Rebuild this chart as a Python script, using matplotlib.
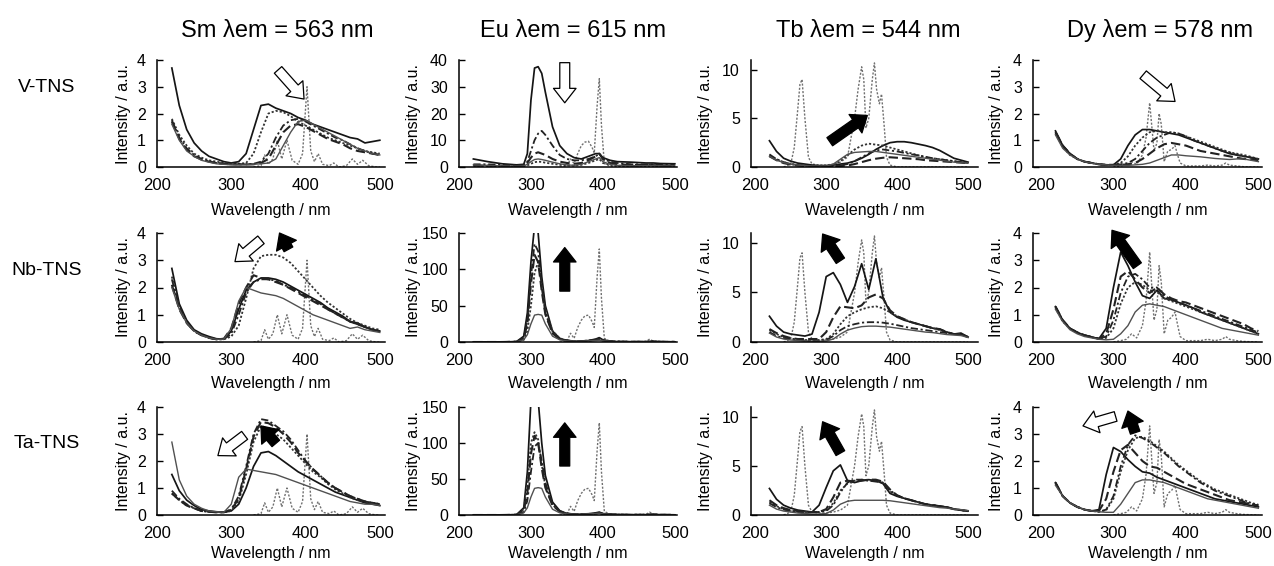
import matplotlib
matplotlib.use('Agg')
import matplotlib.pyplot as plt

plt.rcParams['font.family'] = ['Liberation Sans', 'DejaVu Sans']

# ---------------- data ----------------
COLUMN_TITLES = ['Sm \u03bbem = 563 nm', 'Eu \u03bbem = 615 nm', 'Tb \u03bbem = 544 nm', 'Dy \u03bbem = 578 nm']
ROW_LABELS = ['V-TNS', 'Nb-TNS', 'Ta-TNS']
X_LABEL = 'Wavelength / nm'
Y_LABEL = 'Intensity / a.u.'
X_TICKS = [200, 300, 400, 500]

WL = [220, 230, 240, 250, 260, 270, 280, 290, 300, 310, 320, 330, 340, 350, 360,
      370, 380, 390, 400, 410, 420, 430, 440, 450, 460, 470, 480, 490, 500]
EU_WL = [220, 240, 260, 280, 290, 295, 300, 305, 310, 315, 320, 330, 340, 350, 360,
         370, 380, 390, 395, 400, 410, 420, 440, 460, 470, 480, 500]

# reference (direct excitation) spectra, gray dotted
SM_REF_X = [330, 340, 345, 350, 356, 362, 368, 375, 382, 390, 396, 402, 407, 412, 417, 423, 432,
            438, 445, 455, 463, 470, 477, 485, 495, 500]
SM_REF_Y = [0.0, 0.05, 0.45, 0.1, 0.3, 1.0, 0.3, 1.0, 0.25, 0.1, 0.5, 3.0, 0.6, 0.2, 0.5, 0.1, 0.05,
            0.15, 0.0, 0.05, 0.3, 0.1, 0.25, 0.05, 0.0, 0.0]
EU_REF_X = [340, 350, 355, 360, 365, 370, 375, 380, 385, 388, 392, 395, 398, 402, 410, 420, 440,
            460, 465, 470, 500]
EU_REF_Y = [0, 1, 12, 5, 20, 30, 36, 37, 28, 20, 90, 128, 60, 5, 1, 0.5, 0.5, 1, 4, 1, 0]
EU_REF_Y_V = [0, 0.3, 3, 1.3, 5, 8, 9.3, 9.6, 7.3, 5.2, 23, 33, 15.6, 1.3, 0.3, 0.1, 0.1, 0.3, 1, 0.3, 0]
TB_REF_X = [240, 250, 255, 260, 263, 266, 270, 275, 280, 290, 300, 310, 320, 330, 335, 340, 345,
            350, 353, 356, 360, 365, 368, 371, 375, 378, 382, 385, 390, 400, 500]
TB_REF_Y = [0, 0.3, 2, 6, 8.5, 9, 5, 1, 0.3, 0.2, 0.2, 0.3, 0.5, 1, 3, 5, 8, 10.3, 9, 4, 5, 9,
            10.7, 8, 6.5, 7.5, 4, 1, 0.2, 0, 0]
DY_REF_X = [300, 310, 318, 325, 332, 340, 345, 350, 353, 356, 360, 363, 366, 370, 375, 380, 385,
            388, 392, 400, 420, 430, 440, 450, 455, 460, 470, 480, 500]
DY_REF_Y = [0, 0.05, 0.1, 0.3, 0.15, 0.6, 1.5, 3.3, 2.0, 0.8, 1.2, 2.8, 2.2, 0.3, 0.8, 0.9, 1.1,
            0.7, 0.2, 0.05, 0.05, 0.1, 0.05, 0.1, 0.2, 0.1, 0.05, 0.02, 0]
DY_REF_Y_V = [0, 0.04, 0.07, 0.2, 0.1, 0.45, 1.1, 2.4, 1.5, 0.6, 0.9, 2.0, 1.6, 0.2, 0.6, 0.65, 0.8,
              0.5, 0.15, 0.04, 0.04, 0.07, 0.04, 0.07, 0.15, 0.07, 0.04, 0.01, 0]

# V-TNS
V_SM_1 = [3.7, 2.3, 1.4, 0.9, 0.6, 0.4, 0.3, 0.2, 0.15, 0.2, 0.5, 1.4, 2.3, 2.35, 2.2,
          2.1, 2.0, 1.85, 1.75, 1.6, 1.5, 1.4, 1.3, 1.2, 1.1, 1.05, 0.9, 0.95, 1.0]
V_SM_2 = [1.8, 1.2, 0.8, 0.5, 0.35, 0.25, 0.2, 0.15, 0.12, 0.12, 0.15, 0.5, 1.3, 2.0, 2.1,
          2.05, 1.9, 1.7, 1.55, 1.4, 1.25, 1.1, 1.0, 0.9, 0.8, 0.7, 0.6, 0.55, 0.5]
V_SM_3 = [1.75, 1.1, 0.7, 0.45, 0.3, 0.2, 0.15, 0.12, 0.1, 0.1, 0.1, 0.12, 0.2, 0.5, 1.1,
          1.55, 1.75, 1.8, 1.7, 1.55, 1.4, 1.25, 1.1, 1.0, 0.85, 0.7, 0.6, 0.5, 0.45]
V_SM_4 = [1.7, 1.05, 0.65, 0.4, 0.28, 0.2, 0.15, 0.12, 0.1, 0.1, 0.1, 0.1, 0.15, 0.3, 0.8,
          1.3, 1.55, 1.6, 1.5, 1.35, 1.2, 1.05, 0.95, 0.85, 0.7, 0.6, 0.55, 0.5, 0.45]
V_SM_5 = [1.6, 1.0, 0.6, 0.4, 0.25, 0.18, 0.12, 0.1, 0.08, 0.08, 0.08, 0.1, 0.12, 0.15, 0.3,
          0.8, 1.3, 1.7, 1.75, 1.6, 1.45, 1.3, 1.15, 1.0, 0.85, 0.7, 0.6, 0.5, 0.45]

V_EU_1 = [3, 2, 1.2, 0.8, 1, 5, 25, 37, 37.5, 35, 28, 15, 8, 5, 3.5, 3, 4, 5, 5, 3.5, 2.5, 2, 1.8, 1.5, 1.5, 1.3, 1.2]
V_EU_2 = [1, 1, 0.8, 0.6, 0.8, 2, 6, 10, 12.5, 13.5, 12, 8, 4.5, 3, 2.5, 2.5, 3, 4, 5, 3, 2, 1.5, 1, 1, 1, 0.8, 0.8]
V_EU_3 = [0.5, 0.5, 0.4, 0.3, 0.5, 1.5, 3.5, 5, 5.5, 5, 4.5, 3, 2, 1.5, 1.2, 1.5, 2.5, 4, 5, 3, 1.5, 1, 0.8, 0.7, 0.7, 0.6, 0.5]
V_EU_4 = [0.8, 0.6, 0.4, 0.3, 0.4, 1, 2, 2.8, 3, 2.8, 2.5, 1.8, 1.2, 0.8, 0.6, 1, 2, 3, 3.5, 2, 1, 0.6, 0.5, 0.5, 0.5, 0.4, 0.4]
V_EU_5 = [0.5, 0.4, 0.3, 0.2, 0.3, 0.6, 1.2, 1.8, 2, 1.9, 1.6, 1.2, 0.8, 0.6, 0.5, 0.8, 1.5, 2.5, 3, 1.5, 0.8, 0.5, 0.4, 0.4, 0.4, 0.3, 0.3]

V_TB_1 = [2.7, 1.6, 0.9, 0.6, 0.4, 0.3, 0.2, 0.15, 0.15, 0.2, 0.3, 0.4, 0.6, 0.9, 1.3,
          1.8, 2.2, 2.5, 2.6, 2.6, 2.5, 2.35, 2.2, 2.0, 1.7, 1.3, 0.9, 0.7, 0.5]
V_TB_2 = [1.2, 0.8, 0.5, 0.3, 0.2, 0.15, 0.1, 0.1, 0.1, 0.2, 0.6, 1.2, 1.8, 2.2, 2.4,
          2.3, 2.2, 2.0, 1.8, 1.6, 1.4, 1.2, 1.0, 0.9, 0.8, 0.7, 0.6, 0.5, 0.4]
V_TB_3 = [1.3, 0.8, 0.5, 0.3, 0.2, 0.15, 0.1, 0.1, 0.1, 0.1, 0.15, 0.3, 0.6, 1.0, 1.4,
          1.7, 1.8, 1.7, 1.6, 1.45, 1.3, 1.2, 1.05, 0.9, 0.8, 0.7, 0.6, 0.5, 0.45]
V_TB_4 = [1.1, 0.7, 0.4, 0.25, 0.15, 0.1, 0.08, 0.08, 0.08, 0.08, 0.1, 0.15, 0.3, 0.5, 0.7,
          0.85, 0.95, 1.0, 0.95, 0.9, 0.85, 0.8, 0.7, 0.65, 0.6, 0.55, 0.5, 0.45, 0.4]
V_TB_5 = [1.1, 0.7, 0.45, 0.3, 0.2, 0.15, 0.1, 0.1, 0.1, 0.3, 0.8, 1.3, 1.5, 1.55, 1.6,
          1.6, 1.5, 1.4, 1.3, 1.2, 1.1, 1.0, 0.9, 0.8, 0.7, 0.6, 0.5, 0.45, 0.4]

V_DY_1 = [1.35, 0.8, 0.5, 0.3, 0.2, 0.15, 0.1, 0.08, 0.08, 0.3, 0.8, 1.2, 1.4, 1.4, 1.35,
          1.3, 1.25, 1.2, 1.1, 1.0, 0.9, 0.8, 0.7, 0.6, 0.5, 0.45, 0.4, 0.35, 0.3]
V_DY_2 = [1.3, 0.8, 0.5, 0.3, 0.2, 0.15, 0.1, 0.08, 0.08, 0.1, 0.15, 0.3, 0.6, 0.9, 1.1,
          1.2, 1.3, 1.25, 1.15, 1.0, 0.9, 0.8, 0.7, 0.6, 0.55, 0.45, 0.4, 0.35, 0.3]
V_DY_3 = [1.3, 0.8, 0.5, 0.3, 0.2, 0.15, 0.1, 0.08, 0.08, 0.08, 0.1, 0.15, 0.3, 0.5, 0.7,
          0.85, 0.9, 0.85, 0.8, 0.7, 0.6, 0.55, 0.5, 0.45, 0.4, 0.35, 0.3, 0.28, 0.25]
V_DY_4 = [1.2, 0.7, 0.45, 0.3, 0.2, 0.14, 0.1, 0.08, 0.06, 0.06, 0.06, 0.08, 0.1, 0.15, 0.25,
          0.35, 0.45, 0.45, 0.42, 0.4, 0.38, 0.35, 0.32, 0.3, 0.28, 0.3, 0.3, 0.25, 0.2]
V_DY_5 = [1.25, 0.75, 0.45, 0.3, 0.2, 0.15, 0.1, 0.08, 0.08, 0.15, 0.4, 0.8, 1.1, 1.3, 1.35,
          1.3, 1.3, 1.25, 1.15, 1.05, 0.95, 0.85, 0.75, 0.65, 0.55, 0.5, 0.45, 0.38, 0.3]

# Nb-TNS
NB_SM_1 = [2.4, 1.3, 0.7, 0.4, 0.25, 0.15, 0.1, 0.1, 0.2, 0.6, 1.6, 2.7, 3.15, 3.2, 3.2,
           3.1, 2.9, 2.6, 2.3, 2.0, 1.7, 1.45, 1.25, 1.05, 0.85, 0.7, 0.6, 0.5, 0.45]
NB_SM_2 = [2.7, 1.4, 0.8, 0.45, 0.3, 0.2, 0.12, 0.1, 0.4, 1.2, 1.9, 2.2, 2.35, 2.35, 2.3,
           2.2, 2.05, 1.9, 1.75, 1.6, 1.45, 1.25, 1.1, 0.95, 0.75, 0.7, 0.55, 0.45, 0.4]
NB_SM_3 = [2.3, 1.3, 0.7, 0.4, 0.25, 0.15, 0.1, 0.1, 0.3, 1.0, 1.8, 2.2, 2.3, 2.3, 2.25,
           2.1, 2.0, 1.85, 1.7, 1.55, 1.4, 1.2, 1.05, 0.9, 0.75, 0.65, 0.55, 0.45, 0.4]
NB_SM_4 = [2.1, 1.2, 0.7, 0.4, 0.25, 0.15, 0.1, 0.12, 0.5, 1.4, 2.0, 2.45, 2.35, 2.3, 2.2,
           2.1, 1.95, 1.8, 1.65, 1.5, 1.35, 1.2, 1.05, 0.9, 0.75, 0.65, 0.55, 0.45, 0.4]
NB_SM_5 = [2.0, 1.2, 0.7, 0.4, 0.25, 0.15, 0.1, 0.1, 0.5, 1.5, 2.0, 1.9, 1.8, 1.75, 1.7,
           1.6, 1.45, 1.3, 1.15, 1.0, 0.9, 0.8, 0.7, 0.6, 0.5, 0.55, 0.45, 0.4, 0.35]

NB_EU_1 = [0, 0, 0, 0.5, 8, 40, 110, 160, 150, 90, 50, 15, 5, 2, 1, 1, 2, 4, 6, 3, 1, 0.5, 0.3, 0.3, 1, 0.3, 0.2]
NB_EU_2 = [0, 0, 0, 0.5, 6, 30, 90, 135, 125, 75, 40, 12, 4, 2, 1, 1, 2, 3, 5, 2, 1, 0.5, 0.3, 0.3, 0.5, 0.3, 0.2]
NB_EU_3 = [0, 0, 0, 0.4, 5, 25, 80, 120, 110, 70, 38, 12, 4, 2, 1, 1, 2, 3, 4, 2, 1, 0.5, 0.3, 0.3, 0.5, 0.3, 0.2]
NB_EU_4 = [0, 0, 0, 0.3, 3, 15, 50, 95, 110, 80, 45, 15, 5, 2, 1, 1, 1.5, 3, 4, 2, 1, 0.5, 0.3, 0.3, 0.5, 0.3, 0.2]
NB_EU_5 = [0, 0, 0, 0.3, 3, 10, 25, 37, 38, 37, 25, 8, 3, 1.5, 1, 1, 1.5, 2, 2.5, 1.5, 0.8, 0.4, 0.3, 0.3, 0.3, 0.2, 0.2]

NB_TB_1 = [2.6, 1.6, 1.0, 0.8, 0.7, 0.6, 0.8, 3.0, 6.6, 7.0, 5.8, 4.0, 5.6, 7.9, 5.3,
           8.4, 4.5, 3.0, 2.5, 2.2, 2.0, 1.8, 1.6, 1.4, 1.3, 1.0, 0.8, 0.9, 0.5]
NB_TB_2 = [1.3, 0.9, 0.6, 0.4, 0.3, 0.3, 0.3, 0.3, 1.0, 2.5, 3.6, 3.5, 3.4, 3.7, 4.5,
           4.8, 4.4, 3.2, 2.6, 2.3, 2.0, 1.8, 1.6, 1.4, 1.3, 1.0, 0.8, 0.8, 0.5]
NB_TB_3 = [1.2, 0.8, 0.5, 0.35, 0.25, 0.2, 0.2, 0.2, 0.3, 0.8, 1.8, 2.6, 3.0, 3.3, 3.5,
           3.6, 3.4, 3.0, 2.6, 2.3, 2.0, 1.8, 1.6, 1.4, 1.2, 1.0, 0.8, 0.8, 0.5]
NB_TB_4 = [1.0, 0.6, 0.4, 0.3, 0.2, 0.15, 0.1, 0.1, 0.2, 0.6, 1.2, 1.6, 1.8, 1.95, 2.0,
           2.0, 1.95, 1.85, 1.7, 1.55, 1.4, 1.3, 1.2, 1.1, 1.0, 0.9, 0.8, 0.75, 0.5]
NB_TB_5 = [0.9, 0.5, 0.3, 0.2, 0.15, 0.1, 0.08, 0.08, 0.1, 0.3, 0.8, 1.2, 1.4, 1.55, 1.6,
           1.6, 1.55, 1.5, 1.4, 1.3, 1.2, 1.1, 1.0, 0.95, 0.85, 0.75, 0.7, 0.65, 0.45]

NB_DY_1 = [1.3, 0.8, 0.5, 0.35, 0.25, 0.18, 0.12, 0.5, 2.0, 3.3, 2.8, 2.2, 1.7, 1.6, 1.9,
           1.6, 1.55, 1.45, 1.35, 1.25, 1.1, 1.0, 0.9, 0.8, 0.7, 0.6, 0.5, 0.4, 0.3]
NB_DY_2 = [1.3, 0.8, 0.5, 0.35, 0.25, 0.18, 0.12, 0.3, 1.2, 2.4, 2.6, 2.3, 2.0, 1.8, 2.0,
           1.75, 1.6, 1.5, 1.45, 1.35, 1.25, 1.15, 1.05, 0.95, 0.85, 0.75, 0.65, 0.5, 0.4]
NB_DY_3 = [1.3, 0.8, 0.5, 0.35, 0.25, 0.18, 0.12, 0.2, 0.8, 1.8, 2.4, 2.5, 2.3, 2.0, 2.0,
           1.7, 1.55, 1.45, 1.35, 1.25, 1.15, 1.05, 0.95, 0.85, 0.75, 0.65, 0.55, 0.45, 0.35]
NB_DY_4 = [1.25, 0.75, 0.5, 0.35, 0.25, 0.18, 0.12, 0.15, 0.5, 1.4, 2.0, 2.2, 2.1, 1.9, 1.85,
           1.6, 1.5, 1.4, 1.3, 1.2, 1.1, 1.0, 0.9, 0.8, 0.7, 0.6, 0.5, 0.4, 0.3]
NB_DY_5 = [1.2, 0.75, 0.45, 0.3, 0.2, 0.15, 0.1, 0.08, 0.1, 0.3, 0.6, 1.1, 1.35, 1.4, 1.35,
           1.3, 1.2, 1.1, 1.0, 0.9, 0.8, 0.7, 0.6, 0.5, 0.45, 0.4, 0.35, 0.3, 0.25]

# Ta-TNS
TA_SM_1 = [0.9, 0.6, 0.4, 0.25, 0.15, 0.12, 0.1, 0.1, 0.2, 0.7, 1.8, 3.0, 3.55, 3.5, 3.3,
           3.1, 2.8, 2.4, 2.0, 1.7, 1.45, 1.2, 1.0, 0.85, 0.7, 0.6, 0.5, 0.45, 0.4]
TA_SM_2 = [0.8, 0.55, 0.35, 0.25, 0.15, 0.12, 0.1, 0.1, 0.2, 0.6, 1.7, 2.9, 3.45, 3.4, 3.25,
           3.0, 2.7, 2.3, 2.0, 1.7, 1.45, 1.2, 1.0, 0.85, 0.7, 0.6, 0.5, 0.45, 0.4]
TA_SM_3 = [0.8, 0.55, 0.35, 0.25, 0.15, 0.12, 0.1, 0.1, 0.15, 0.5, 1.5, 2.7, 3.3, 3.2, 3.0,
           2.8, 2.5, 2.2, 1.9, 1.6, 1.4, 1.15, 0.95, 0.8, 0.65, 0.55, 0.5, 0.45, 0.4]
TA_SM_4 = [1.5, 0.9, 0.55, 0.35, 0.2, 0.15, 0.12, 0.1, 0.15, 0.4, 1.0, 1.8, 2.3, 2.35, 2.2,
           2.0, 1.8, 1.6, 1.45, 1.3, 1.15, 1.0, 0.85, 0.75, 0.65, 0.55, 0.45, 0.4, 0.35]
TA_SM_5 = [2.7, 1.3, 0.7, 0.4, 0.25, 0.15, 0.12, 0.1, 0.4, 1.4, 1.7, 1.65, 1.6, 1.55, 1.5,
           1.4, 1.3, 1.2, 1.1, 1.0, 0.9, 0.8, 0.7, 0.6, 0.5, 0.45, 0.4, 0.4, 0.35]

TA_EU_1 = [0, 0, 0, 0.5, 10, 60, 160, 170, 160, 100, 55, 18, 6, 2, 1, 1, 1.5, 3, 4, 2, 1, 0.5, 0.3, 0.3, 1, 0.3, 0.2]
TA_EU_2 = [0, 0, 0, 0.4, 8, 40, 100, 115, 105, 70, 40, 14, 5, 2, 1, 1, 1.5, 2, 3, 1.5, 0.8, 0.5, 0.3, 0.3, 0.5, 0.3, 0.2]
TA_EU_3 = [0, 0, 0, 0.4, 6, 30, 85, 110, 100, 65, 38, 13, 5, 2, 1, 1, 1.5, 2, 3, 1.5, 0.8, 0.5, 0.3, 0.3, 0.5, 0.3, 0.2]
TA_EU_4 = [0, 0, 0, 0.3, 4, 20, 60, 95, 100, 75, 45, 15, 5, 2, 1, 1, 1.5, 2, 3, 1.5, 0.8, 0.5, 0.3, 0.3, 0.5, 0.3, 0.2]
TA_EU_5 = [0, 0, 0, 0.3, 3, 10, 25, 37, 38, 37, 25, 8, 3, 1.5, 1, 1, 1.5, 2, 2.5, 1.5, 0.8, 0.4, 0.3, 0.3, 0.3, 0.2, 0.2]

TA_TB_1 = [2.7, 1.6, 1.0, 0.7, 0.5, 0.4, 0.3, 1.0, 2.8, 4.5, 5.1, 3.5, 3.3, 3.5, 3.6,
           3.5, 3.2, 2.2, 1.9, 1.7, 1.5, 1.3, 1.1, 1.0, 0.9, 0.8, 0.6, 0.5, 0.4]
TA_TB_2 = [1.5, 1.0, 0.7, 0.5, 0.4, 0.3, 0.3, 0.3, 0.6, 1.8, 3.3, 3.5, 3.4, 3.5, 3.6,
           3.6, 3.4, 2.6, 2.0, 1.7, 1.5, 1.3, 1.1, 1.0, 0.9, 0.8, 0.6, 0.5, 0.4]
TA_TB_3 = [1.3, 0.9, 0.6, 0.45, 0.35, 0.3, 0.3, 0.3, 0.5, 1.2, 2.5, 3.2, 3.5, 3.6, 3.5,
           3.5, 3.3, 2.4, 2.0, 1.7, 1.5, 1.3, 1.1, 1.0, 0.9, 0.8, 0.6, 0.5, 0.4]
TA_TB_4 = [1.2, 0.8, 0.55, 0.4, 0.3, 0.3, 0.3, 0.3, 0.4, 1.0, 2.3, 3.3, 3.6, 3.6, 3.5,
           3.4, 3.3, 2.5, 2.0, 1.7, 1.5, 1.3, 1.1, 1.0, 0.9, 0.8, 0.6, 0.5, 0.4]
TA_TB_5 = [1.0, 0.6, 0.4, 0.3, 0.2, 0.15, 0.1, 0.1, 0.15, 0.5, 1.1, 1.4, 1.5, 1.5, 1.5,
           1.5, 1.5, 1.45, 1.35, 1.25, 1.15, 1.05, 0.95, 0.85, 0.75, 0.7, 0.6, 0.55, 0.45]

TA_DY_1 = [1.2, 0.7, 0.45, 0.3, 0.2, 0.15, 0.2, 1.5, 2.5, 2.35, 2.05, 1.8, 1.6, 1.55, 1.4,
           1.3, 1.2, 1.1, 1.0, 0.9, 0.8, 0.7, 0.6, 0.55, 0.5, 0.45, 0.4, 0.35, 0.3]
TA_DY_2 = [1.2, 0.7, 0.45, 0.3, 0.2, 0.15, 0.15, 0.6, 1.6, 2.4, 2.6, 2.3, 2.0, 1.8, 1.75,
           1.6, 1.45, 1.3, 1.15, 1.05, 0.95, 0.85, 0.75, 0.65, 0.55, 0.5, 0.45, 0.4, 0.35]
TA_DY_3 = [1.2, 0.7, 0.45, 0.3, 0.2, 0.15, 0.12, 0.2, 0.7, 1.8, 2.6, 2.95, 2.85, 2.7, 2.5,
           2.3, 2.05, 1.8, 1.6, 1.4, 1.2, 1.05, 0.9, 0.8, 0.7, 0.6, 0.5, 0.4, 0.35]
TA_DY_4 = [1.15, 0.7, 0.45, 0.3, 0.2, 0.15, 0.12, 0.18, 0.6, 1.6, 2.4, 2.85, 2.9, 2.75, 2.55,
           2.35, 2.1, 1.85, 1.65, 1.45, 1.25, 1.1, 0.95, 0.85, 0.75, 0.65, 0.55, 0.45, 0.38]
TA_DY_5 = [1.1, 0.7, 0.45, 0.3, 0.2, 0.15, 0.12, 0.1, 0.1, 0.4, 0.8, 1.2, 1.3, 1.3, 1.25,
           1.2, 1.1, 1.0, 0.9, 0.8, 0.7, 0.6, 0.55, 0.5, 0.45, 0.4, 0.35, 0.3, 0.25]

# ---------------- styles & layout ----------------
STYLES = {
    'solid': dict(color='#151515', ls='-', lw=1.25),
    'dot': dict(color='#333333', ls=(0, (1.2, 1.1)), lw=1.3),
    'dashdot': dict(color='#222222', ls=(0, (4, 1.5, 1.2, 1.5)), lw=1.3),
    'dash': dict(color='#222222', ls=(0, (4.5, 2)), lw=1.5),
    'gray': dict(color='#505050', ls='-', lw=1.0),
    'ref': dict(color='#707070', ls=(0, (1.5, 1.2)), lw=1.0),
}
CURVE_STYLES = ['solid', 'dot', 'dashdot', 'dash', 'gray']

PANELS = [
    [(WL, [V_SM_1, V_SM_2, V_SM_3, V_SM_4, V_SM_5], SM_REF_X, SM_REF_Y),
     (EU_WL, [V_EU_1, V_EU_5, V_EU_2, V_EU_3, V_EU_4], EU_REF_X, EU_REF_Y_V),
     (WL, [V_TB_1, V_TB_2, V_TB_3, V_TB_4, V_TB_5], TB_REF_X, TB_REF_Y),
     (WL, [V_DY_1, V_DY_5, V_DY_2, V_DY_3, V_DY_4], DY_REF_X, DY_REF_Y_V)],
    [(WL, [NB_SM_2, NB_SM_1, NB_SM_3, NB_SM_4, NB_SM_5], SM_REF_X, SM_REF_Y),
     (EU_WL, [NB_EU_1, NB_EU_4, NB_EU_2, NB_EU_3, NB_EU_5], EU_REF_X, EU_REF_Y),
     (WL, [NB_TB_1, NB_TB_3, NB_TB_4, NB_TB_2, NB_TB_5], TB_REF_X, TB_REF_Y),
     (WL, [NB_DY_1, NB_DY_4, NB_DY_3, NB_DY_2, NB_DY_5], DY_REF_X, DY_REF_Y)],
    [(WL, [TA_SM_4, TA_SM_3, TA_SM_1, TA_SM_2, TA_SM_5], SM_REF_X, SM_REF_Y),
     (EU_WL, [TA_EU_1, TA_EU_2, TA_EU_4, TA_EU_3, TA_EU_5], EU_REF_X, EU_REF_Y),
     (WL, [TA_TB_1, TA_TB_3, TA_TB_4, TA_TB_2, TA_TB_5], TB_REF_X, TB_REF_Y),
     (WL, [TA_DY_1, TA_DY_4, TA_DY_3, TA_DY_2, TA_DY_5], DY_REF_X, DY_REF_Y)],
]

YLIMS = [[(0, 4), (0, 40), (0, 11), (0, 4)],
         [(0, 4), (0, 150), (0, 11), (0, 4)],
         [(0, 4), (0, 150), (0, 11), (0, 4)]]
YTICKS = [[[0, 1, 2, 3, 4], [0, 10, 20, 30, 40], [0, 5, 10], [0, 1, 2, 3, 4]],
          [[0, 1, 2, 3, 4], [0, 50, 100, 150], [0, 5, 10], [0, 1, 2, 3, 4]],
          [[0, 1, 2, 3, 4], [0, 50, 100, 150], [0, 5, 10], [0, 1, 2, 3, 4]]]

# block arrows: (tail, tip, fill)
ARROWS = [
    [[((363, 3.63), (398, 2.54), 'white')],
     [((347, 39), (347, 24), 'white')],
     [((305, 2.6), (358, 5.3), 'black')],
     [((341, 3.45), (385, 2.45), 'white')]],
    [[((340, 3.75), (305, 2.95), 'white'), ((377, 3.4), (365, 4.0), 'black')],
     [((347, 70), (347, 130), 'black')],
     [((320, 8.2), (295, 10.9), 'black')],
     [((333, 2.8), (298, 4.1), 'black')]],
    [[((318, 2.95), (282, 2.2), 'white'), ((360, 2.65), (340, 3.3), 'black')],
     [((347, 68), (347, 128), 'black')],
     [((320, 6.3), (295, 9.5), 'black')],
     [((303, 3.65), (258, 3.3), 'white'), ((330, 3.05), (320, 3.85), 'black')]],
]

W, H = 1274, 566
COL_LEFT = [157, 459, 751, 1033]
COL_W = [228, 218, 227, 229]
ROW_AXIS_Y = [167, 342, 515]
ROW_H = [107, 109, 108]
XLIMS = [(200, 507), (200, 503), (194, 514), (189, 505)]
YLABEL_OFFSET = [26, 38, 38, 29]   # pixels left of the spine
XLABEL_OFFSET = [36, 34, 31]       # pixels below the spine
TITLE_X = [277, 573, 868, 1160]
TITLE_BASE_Y = 37
ROW_LABEL_X = 47
ROW_LABEL_Y = [87, 270, 443]

fig = plt.figure(figsize=(W / 100, H / 100), dpi=100)

for r in range(3):
    for c in range(4):
        ax = fig.add_axes([COL_LEFT[c] / W, 1 - ROW_AXIS_Y[r] / H, COL_W[c] / W, ROW_H[r] / H])
        xs, curves, rx, ry = PANELS[r][c]
        ax.plot(rx, ry, **STYLES['ref'])
        for ys, st in zip(curves, CURVE_STYLES):
            ax.plot(xs, ys, **STYLES[st])
        for tail, tip, fill in ARROWS[r][c]:
            ax.annotate('', xy=tip, xytext=tail, xycoords='data', textcoords='data',
                        annotation_clip=False,
                        arrowprops=dict(arrowstyle='simple,head_length=0.8,head_width=1.25,tail_width=0.55',
                                        mutation_scale=13, fc=fill, ec='black', lw=0.9,
                                        shrinkA=0, shrinkB=0))
        ax.set_xlim(*XLIMS[c])
        ax.set_ylim(*YLIMS[r][c])
        ax.set_xticks(X_TICKS)
        ax.set_yticks(YTICKS[r][c])
        for s in ('top', 'right'):
            ax.spines[s].set_visible(False)
        for s in ('left', 'bottom'):
            ax.spines[s].set_linewidth(1.1)
            ax.spines[s].set_color('black')
        ax.tick_params(axis='y', direction='in', length=4, width=1.0, labelsize=11.5, pad=8)
        ax.tick_params(axis='x', length=0, labelsize=12, pad=8)
        ax.set_xlabel(X_LABEL, fontsize=11.5)
        ax.set_ylabel(Y_LABEL, fontsize=11.5)
        ax.xaxis.set_label_coords(0.5, -XLABEL_OFFSET[r] / ROW_H[r])
        ax.yaxis.set_label_coords(-YLABEL_OFFSET[c] / COL_W[c], 0.5)
        ax.patch.set_alpha(0)

for c in range(4):
    fig.text(TITLE_X[c] / W, 1 - TITLE_BASE_Y / H, COLUMN_TITLES[c], fontsize=17,
             ha='center', va='baseline')
for r in range(3):
    fig.text(ROW_LABEL_X / W, 1 - ROW_LABEL_Y[r] / H, ROW_LABELS[r], fontsize=14,
             ha='center', va='center')

fig.savefig('out.png', dpi=100)
